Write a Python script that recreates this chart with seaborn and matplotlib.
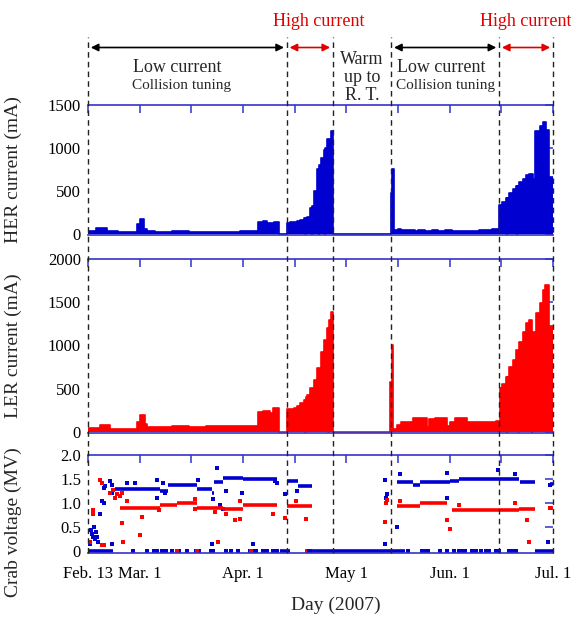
import matplotlib
matplotlib.use("Agg")
import matplotlib.pyplot as plt
import matplotlib.transforms as mtransforms
import numpy as np
import pandas as pd
import seaborn as sns

# ---------------- data (x = days since Feb. 13, 2007) ----------------
phase_bounds = [0, 59, 72.7, 90, 122, 138]

her_day = [0, 2.5, 5.5, 9, 14.5, 15.5, 16.5, 17.5, 20, 25, 30, 35, 40, 45, 50.5, 52, 53, 54.8, 55.3, 56.7,
           59, 60, 61, 62, 63, 64, 64.4, 64.6, 65, 66, 66.4, 66.6, 67, 68, 68.5, 68.7, 69, 70, 70.2, 70.4, 71, 72, 72.7,
           89.9, 90.3, 90.8, 92, 93, 94, 95, 96, 97, 98, 100, 102, 104, 106, 108, 110, 112, 114, 116, 118, 119, 120, 121,
           122, 123, 124, 124.2, 124.4, 125, 126, 127, 127.2, 127.4, 128, 129, 130, 131, 132, 132.8, 134, 135, 136, 136.7, 138]
her_ma = [30, 70, 30, 25, 110, 175, 60, 30, 25, 30, 20, 25, 25, 30, 140, 150, 130, 60, 140, 0,
          130, 135, 140, 150, 165, 180, 0, 185, 200, 300, 0, 320, 500, 760, 0, 800, 880, 980, 0, 1000, 1100, 1200, 0,
          480, 760, 40, 55, 50, 45, 40, 45, 35, 40, 35, 40, 35, 45, 30, 35, 30, 35, 40, 50, 45, 55, 60,
          340, 370, 420, 0, 420, 480, 520, 560, 0, 560, 600, 640, 680, 700, 640, 1200, 1250, 1300, 1210, 660, 660]

ler_day = [0, 3.5, 6.5, 10, 14.5, 15.5, 16.8, 17.5, 20, 25, 30, 35, 40, 45, 50.5, 52, 54, 55, 56.6,
           59, 60, 61, 62, 63, 64, 64.4, 64.6, 65, 66, 67, 68, 69, 70, 71, 71.2, 71.6, 72, 72.7,
           89.7, 90.2, 90.6, 91.6, 93, 96.5, 100.5, 101.2, 103, 106, 106.6, 107.4, 108.9, 112.4, 116.3, 121,
           122.3, 123, 124, 124.2, 124.4, 125, 126, 127, 127.7, 127.9, 128, 129, 130, 131, 131.7, 131.9,
           133, 134, 135, 135.7, 136.7, 138]
ler_ma = [45, 80, 40, 35, 120, 195, 90, 60, 55, 65, 60, 70, 65, 70, 230, 240, 216, 277, 0,
          262, 270, 280, 300, 340, 370, 0, 400, 430, 505, 600, 735, 930, 1060, 1200, 0, 1300, 1390, 0,
          580, 1006, 40, 80, 120, 158, 60, 150, 158, 158, 70, 110, 158, 120, 110, 130,
          505, 560, 640, 0, 640, 755, 830, 950, 0, 980, 1045, 1160, 1255, 1295, 0, 1160,
          1370, 1490, 1640, 1700, 1220, 1180]

# crab voltage: flat operating levels (start day, end day, MV)
her_crab_start = [0, 8, 21.4, 23.7, 32.3, 36.8, 37.5, 40, 46, 57, 59, 62.4, 65, 91.7, 96.5, 98.5, 107.4, 110, 128.2, 132.6, 137]
her_crab_end = [7.5, 21.4, 23.7, 32.3, 36.8, 37.5, 40, 46, 56, 60, 62.4, 66.5, 94, 96.5, 98.5, 107.4, 110, 128, 132.6, 138, 138]
her_crab_mv = [0, 1.30, 1.25, 1.38, 1.29, 1.22, 1.43, 1.53, 1.50, 0, 1.46, 1.35, 0, 1.43, 1.38, 1.44, 1.46, 1.50, 1.43, 0, 1.40]

ler_crab_start = [9.5, 21.4, 26.4, 32.3, 40, 46, 59, 91.7, 98.5, 108, 128, 137]
ler_crab_end = [21.4, 26.4, 32.3, 40, 46, 56, 66.5, 98.5, 106.5, 128, 132.6, 138]
ler_crab_mv = [0.90, 0.97, 1.00, 0.90, 0.88, 0.97, 0.94, 0.94, 1.01, 0.85, 0.88, 0.89]

her_pts_day = [1.0, 1.3, 1.6, 2.0, 2.3, 2.6, 2.9, 1.8, 0.6, 3.6, 4.1, 4.6, 4.6, 5.0, 6.5, 7.0, 7.0, 7.0, 11.5, 14.0,
               20.4, 20.4, 22.3, 22.8, 32.7, 37.2, 38.2, 41.1, 36.7, 49.0, 45.6, 39.2, 40.2, 55.5, 56.0, 58.5, 61.9,
               88.1, 88.4, 88.6, 88.4, 88.1, 91.6, 92.6, 106.5, 106.5, 121.8, 126.8, 136.6, 137.1,
               13.5, 17.5, 19.5, 20.5, 22, 23, 25, 26.5, 27, 29.5, 32, 33, 36.5, 37, 41, 42.5, 44.5, 48, 49, 50, 52,
               53, 55, 56, 95, 99, 100, 101, 104.5, 106.5, 108.5, 110, 111, 112, 114, 115, 116.5, 118, 119, 121, 122,
               125, 126, 127]
her_pts_mv = [0.45, 0.35, 0.30, 0.25, 0.40, 0.30, 0.20, 0.50, 0.15, 0.78, 1.05, 1.00, 1.32, 1.35, 1.45, 1.38, 1.22, 0.16,
              1.42, 1.42, 1.49, 1.11, 1.42, 1.22, 1.49, 1.08, 1.73, 1.26, 0.16, 0.16, 1.22, 0.97, 0.88, 1.45, 1.42,
              1.18, 1.25, 1.49, 1.10, 1.20, 1.00, 0.16, 0.50, 1.60, 1.62, 1.10, 1.68, 1.60, 0.20, 1.38,
              0, 0, 0, 0, 0, 0, 0, 0, 0, 0, 0, 0, 0, 0, 0, 0, 0, 0, 0, 0, 0,
              0, 0, 0, 0, 0, 0, 0, 0, 0, 0, 0, 0, 0, 0, 0, 0, 0, 0, 0, 0,
              0, 0, 0]

ler_pts_day = [0.6, 1.6, 1.6, 3.6, 4.1, 4.1, 4.6, 6.5, 7.5, 8.5, 9.5, 10.0, 8.0, 11.5, 10.0, 10.4, 15.4, 16.0, 21.0,
               31.7, 31.7, 37.7, 41.1, 43.5, 45.0, 45.0, 38.6, 55.0, 58.5, 64.8, 61.7, 88.1, 88.4, 88.6, 92.6, 106.5,
               107.5, 110.0, 126.8, 130.3, 130.8, 137.1, 26.4, 32.2, 48.5, 65, 66]
ler_pts_mv = [0.20, 0.85, 0.78, 1.49, 1.42, 0.13, 0.13, 1.22, 1.27, 1.18, 1.15, 1.22, 1.10, 1.05, 0.58, 0.20, 0.34,
              0.71, 0.85, 0.88, 1.08, 0.82, 0.78, 0.64, 0.67, 1.05, 0.20, 0.78, 0.70, 0.67, 1.05, 0.60, 1.00, 1.07,
              1.05, 0.64, 0.47, 0.97, 1.01, 0.66, 0.19, 0.90, 0, 0, 0, 0, 0]

tick_days = [0, 15.33, 30.67, 46, 61.33, 76.67, 92, 107.33, 122.67, 138]
tick_labels = ["Feb. 13", "Mar. 1", "", "Apr. 1", "", "May 1", "", "Jun. 1", "", "Jul. 1"]

# ---------------- style ----------------
sns.set_style("white")
plt.rcParams["font.family"] = ["Liberation Serif", "DejaVu Serif"]
HER_C = "#0000d0"
LER_C = "#ff0000"
AX_C = "#3333cc"

W_PX, H_PX = 571, 620
fig = plt.figure(figsize=(W_PX / 100, H_PX / 100), dpi=100)
left = 88 / W_PX
width = (553 - 88) / W_PX
ax1 = fig.add_axes([left, 1 - 235 / H_PX, width, 130 / H_PX])
ax2 = fig.add_axes([left, 1 - 433 / H_PX, width, 174 / H_PX])
ax3 = fig.add_axes([left, 1 - 553 / H_PX, width, 98 / H_PX])

# HER current
her_df = pd.DataFrame({"day": her_day, "mA": her_ma})
ax1.fill_between(her_df["day"], her_df["mA"], step="post", color=HER_C, linewidth=0)
sns.lineplot(data=her_df, x="day", y="mA", drawstyle="steps-post", color=HER_C, lw=1.2,
             estimator=None, ax=ax1)

# LER current
ler_df = pd.DataFrame({"day": ler_day, "mA": ler_ma})
ax2.fill_between(ler_df["day"], ler_df["mA"], step="post", color=LER_C, linewidth=0)
sns.lineplot(data=ler_df, x="day", y="mA", drawstyle="steps-post", color=LER_C, lw=1.2,
             estimator=None, ax=ax2)

# Crab voltage
def seg_frame(st, en, mv):
    rows = []
    for i, (a, b, v) in enumerate(zip(st, en, mv)):
        rows.append((i, a, v))
        rows.append((i, b, v))
    return pd.DataFrame(rows, columns=["seg", "day", "MV"])

sns.lineplot(data=seg_frame(her_crab_start, her_crab_end, her_crab_mv), x="day", y="MV", units="seg",
             estimator=None, color=HER_C, lw=2.6, solid_capstyle="butt", ax=ax3)
sns.lineplot(data=seg_frame(ler_crab_start, ler_crab_end, ler_crab_mv), x="day", y="MV", units="seg",
             estimator=None, color=LER_C, lw=2.6, solid_capstyle="butt", ax=ax3)
sns.scatterplot(x=her_pts_day, y=her_pts_mv, marker="s", s=8, color=HER_C, linewidth=0, ax=ax3, clip_on=False)
sns.scatterplot(x=ler_pts_day, y=ler_pts_mv, marker="s", s=8, color=LER_C, linewidth=0, ax=ax3, clip_on=False)

# axes cosmetics
for ax in (ax1, ax2, ax3):
    ax.set_xlim(0, 138)
    ax.set_xticks(tick_days)
    ax.tick_params(axis="both", which="both", direction="in", length=6, width=1.1, color=AX_C,
                   top=True, right=True, labelsize=12, labelcolor="black")
    ax.tick_params(axis="y", pad=5)
    ax.tick_params(axis="x", pad=9)
    for s in ("top", "bottom"):
        ax.spines[s].set_color(AX_C)
        ax.spines[s].set_linewidth(1.2)
    for s in ("left", "right"):
        ax.spines[s].set_visible(False)
    ax.set_xlabel("")
    ax.set_facecolor("none")

ax1.set_ylim(-14, 1500)
ax1.set_yticks([0, 500, 1000, 1500])
ax1.set_xticklabels([])
ax1.set_ylabel("HER current (mA)", fontsize=14)
ax1.yaxis.set_label_coords(-0.142, 0.5)

ax2.set_ylim(-12, 2000)
ax2.set_yticks([0, 500, 1000, 1500, 2000])
ax2.set_xticklabels([])
ax2.set_ylabel("LER current (mA)", fontsize=14)
ax2.yaxis.set_label_coords(-0.142, 0.5)

ax3.set_ylim(-0.035, 2.0)
ax3.set_yticks([0, 0.5, 1.0, 1.5, 2.0])
ax3.set_yticklabels(["0", "0.5", "1.0", "1.5", "2.0"])
ax3.set_xticklabels(tick_labels)
ax3.set_ylabel("Crab voltage (MV)", fontsize=14)
ax3.yaxis.set_label_coords(-0.142, 0.32)
ax3.set_xlabel("Day (2007)", fontsize=14)
ax3.xaxis.set_label_coords(0.533, -0.45)

# overlay for phase boundaries and annotations
ov = fig.add_axes([left, 1 - 553 / H_PX, width, 553 / H_PX])
ov.set_xlim(0, 138)
ov.set_ylim(0, 1)
ov.axis("off")
ov.patch.set_visible(False)
line_top = (553 - 37) / 553
for b in phase_bounds:
    ov.axvline(b, ymin=0, ymax=line_top, color="#222222", lw=1.0, ls=(0, (4, 3)), clip_on=False)

def yfrac(ypx):
    return (553 - ypx) / 553

arrow_y = yfrac(47.5)
arrow_specs = [(0, 59, "black"), (59, 72.7, "#e00000"), (90, 122, "black"), (122, 138, "#e00000")]
for a, b, c in arrow_specs:
    ov.annotate("", xy=(b, arrow_y), xytext=(a, arrow_y), xycoords=("data", "axes fraction"),
                textcoords=("data", "axes fraction"),
                arrowprops=dict(arrowstyle="<|-|>", color=c, lw=1.2, mutation_scale=11,
                                shrinkA=2, shrinkB=2), annotation_clip=False)

trans = mtransforms.blended_transform_factory(ov.transData, ov.transAxes)
ov.text((273 - 88) / 3.37, yfrac(21.5), "High current", color="#e00000", fontsize=13,
        ha="left", va="center", transform=trans, clip_on=False)
ov.text((480 - 88) / 3.37, yfrac(21.5), "High current", color="#e00000", fontsize=13,
        ha="left", va="center", transform=trans, clip_on=False)
ov.text((133 - 88) / 3.37, yfrac(68), "Low current", fontsize=13, ha="left", va="center", transform=trans)
ov.text((132 - 88) / 3.37, yfrac(85), "Collision tuning", fontsize=11, ha="left", va="center", transform=trans)
ov.text((397 - 88) / 3.37, yfrac(68), "Low current", fontsize=13, ha="left", va="center", transform=trans)
ov.text((396 - 88) / 3.37, yfrac(85), "Collision tuning", fontsize=11, ha="left", va="center", transform=trans)
for txt, ypx in (("Warm", 60), ("up to", 77.5), ("R. T.", 95)):
    ov.text((362 - 88) / 3.37, yfrac(ypx), txt, fontsize=13, ha="center", va="center", transform=trans)

fig.savefig("out.png", dpi=100)
